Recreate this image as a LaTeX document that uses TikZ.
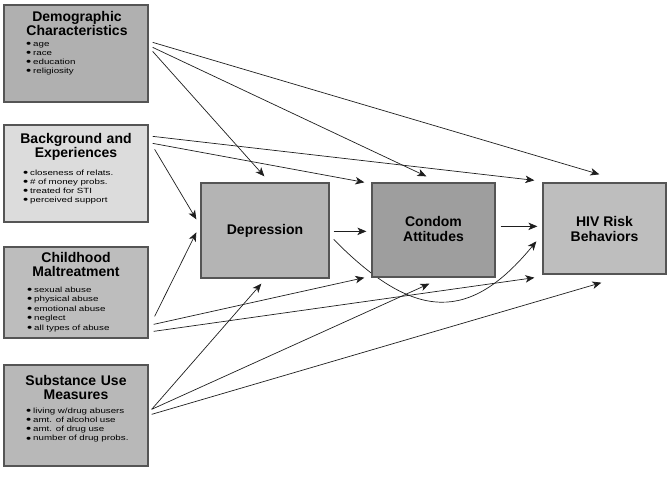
\documentclass[tikz,border=0pt]{standalone}
\usepackage{fontspec}
\setmainfont{Liberation Sans}
\newfontfamily\itemfont[FakeStretch=1.3]{Liberation Sans}
\usetikzlibrary{arrows.meta}
\pgfdeclarelayer{bg}
\pgfsetlayers{bg,main}
\definecolor{cdemo}{HTML}{B0B0B0}
\definecolor{cback}{HTML}{DCDCDC}
\definecolor{cchild}{HTML}{BDBDBD}
\definecolor{csubst}{HTML}{B8B8B8}
\definecolor{cdep}{HTML}{B4B4B4}
\definecolor{ccond}{HTML}{9E9E9E}
\definecolor{chiv}{HTML}{BEBEBE}
\definecolor{cborder}{HTML}{555555}
\definecolor{cline}{HTML}{1E1E1E}
\newcommand\itbul{\makebox[7pt][l]{\raisebox{-1.3pt}{\scalebox{1.5}{•}}}}
\tikzset{
  boxnode/.style={draw=cborder, line width=1.3pt, rectangle, inner sep=0pt},
  titlenode/.style={anchor=base, inner sep=0pt, text width=144pt, align=center,
    font=\fontsize{14}{14}\selectfont\bfseries},
  itemnode/.style={anchor=base west, inner sep=0pt, text width=130pt, align=left,
    font=\itemfont\fontsize{7.5}{9}\selectfont},
  maintext/.style={font=\fontsize{14}{15}\selectfont\bfseries, align=center, inner sep=0pt},
  arr/.style={draw=cline, line width=0.7pt, -{Stealth[length=9pt,width=7.5pt,inset=2.5pt]}}
}
\begin{document}
\begin{tikzpicture}[x=1pt,y=-1pt]
\useasboundingbox (0,0) rectangle (672,477);
% left boxes
\node[boxnode, fill=cdemo, minimum width=144pt, minimum height=97pt] (demo) at (76,53.5) {};
\node[boxnode, fill=cback, minimum width=144pt, minimum height=97pt] (back) at (76,173.5) {};
\node[boxnode, fill=cchild, minimum width=144pt, minimum height=91pt] (child) at (76,292.5) {};
\node[boxnode, fill=csubst, minimum width=144pt, minimum height=101pt] (subst) at (76,415.5) {};
% main boxes
\node[boxnode, fill=cdep, minimum width=128pt, minimum height=95pt] (dep) at (265,230.5) {};
\node[boxnode, fill=ccond, minimum width=123pt, minimum height=94pt] (cond) at (433.5,230) {};
\node[boxnode, fill=chiv, minimum width=123pt, minimum height=91pt] (hiv) at (604.5,228.5) {};
% titles
\node[titlenode] (demot) at (77,21) {Demographic\\Characteristics};
\node[titlenode] (backt) at (76,143) {Background and\\Experiences};
\node[titlenode] (childt) at (76,262) {Childhood\\Maltreatment};
\node[titlenode] (substt) at (76,385) {Substance Use\\Measures};
% items
\node[itemnode] (demoi) at (26,46) {\itbul age\\\itbul race\\\itbul education\\\itbul religiosity};
\node[itemnode] (backi) at (23,175) {\itbul closeness of relats.\\\itbul \# of money probs.\\\itbul treated for STI\\\itbul perceived support};
\node[itemnode, font=\itemfont\fontsize{7.5}{9.5}\selectfont] (childi) at (27,292) {\itbul sexual abuse\\\itbul physical abuse\\\itbul emotional abuse\\\itbul neglect\\\itbul all types of abuse};
\node[itemnode, font=\itemfont\fontsize{7.5}{9.3}\selectfont] (substi) at (26,413) {\itbul living w/drug abusers\\\itbul amt. of alcohol use\\\itbul amt. of drug use\\\itbul number of drug probs.};
% main texts
\node[maintext] (dept) at (dep.center) {Depression};
\node[maintext] (condt) at ([shift={(0,-1)}]cond.center) {Condom\\Attitudes};
\node[maintext] (hivt) at (hiv.center) {HIV Risk\\Behaviors};
% connectors
\begin{pgfonlayer}{bg}
\draw[arr] ([shift={(4,47)}]demo.north east) -- ([shift={(64,-6)}]dep.north west);
\draw[arr] ([shift={(4,43)}]demo.north east) -- ([shift={(55,-6)}]cond.north west);
\draw[arr] ([shift={(4,38)}]demo.north east) -- ([shift={(57,-8)}]hiv.north west);
\draw[arr] ([shift={(4,12)}]back.north east) -- ([shift={(-8,-2)}]hiv.north west);
\draw[arr] ([shift={(4,19)}]back.north east) -- ([shift={(-7,0)}]cond.north west);
\draw[arr] ([shift={(6,25)}]back.north east) -- ([shift={(-4,37)}]dep.north west);
\draw[arr] ([shift={(6,70)}]child.north east) -- ([shift={(-4,50)}]dep.north west);
\draw[arr] ([shift={(5,78)}]child.north east) -- ([shift={(-7,0)}]cond.south west);
\draw[arr] ([shift={(5,85)}]child.north east) -- ([shift={(-8,3)}]hiv.south west);
\draw[arr] ([shift={(3,45)}]subst.north east) -- ([shift={(61,5)}]dep.south west);
\draw[arr] ([shift={(3,45)}]subst.north east) -- ([shift={(58,6)}]cond.south west);
\draw[arr] ([shift={(3,50)}]subst.north east) -- ([shift={(59,8)}]hiv.south west);
\draw[arr] ([shift={(4,49)}]dep.north east) -- ([shift={(-5,49)}]cond.north west);
\draw[arr] ([shift={(5,44)}]cond.north east) -- ([shift={(-5,44)}]hiv.north west);
\draw[arr] ([shift={(4,57)}]dep.north east) .. controls (415,322) and (470,322) .. ([shift={(-6,59)}]hiv.north west);
\end{pgfonlayer}
\end{tikzpicture}
\end{document}
